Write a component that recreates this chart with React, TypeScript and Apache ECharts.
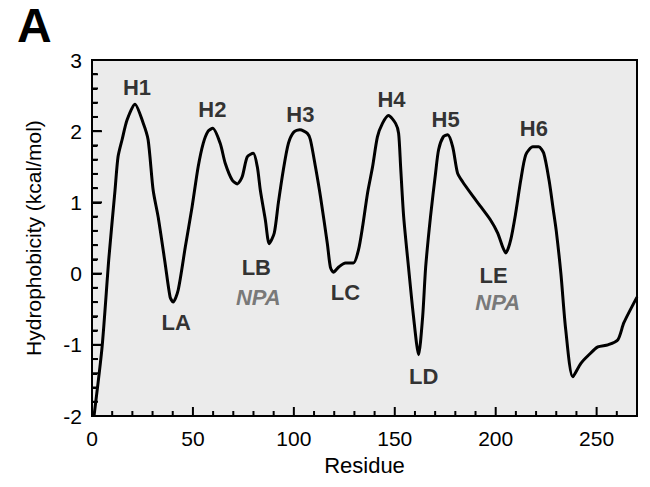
import React, { useEffect, useRef } from "react";
import * as echarts from "echarts";

const residues = [1, 5, 8.4, 11.4, 12.9, 14.9, 17.4, 21.3, 25.3, 27.8, 30.3, 32.8, 36.2, 38.7, 40.2, 42.7, 46.2, 49.6, 52.6, 55.1, 57.5, 59.8, 63.5, 66, 69.5, 72, 74.4, 76.9, 79.9, 81.9, 83.4, 85.9, 87.8, 90.3, 92.3, 94.8, 97.3, 100, 103, 106.7, 108.2, 110.7, 113.2, 116.6, 118.1, 119.6, 122.1, 125.6, 129.5, 132, 134, 136.5, 139, 141.4, 143.9, 146.9, 150.4, 151.9, 152.9, 154.4, 156.8, 159.3, 161.8, 163.8, 165.3, 167.7, 170.2, 171.7, 174, 176.2, 178.7, 181.1, 183.6, 187.6, 192.6, 197.5, 201, 203.5, 205, 207.4, 209.9, 212.4, 214.9, 218.4, 221.3, 223.8, 226.5, 228.5, 230, 232.3, 234.7, 238.2, 242.2, 246.2, 250.6, 255.6, 260.5, 263.5, 270];
const hydrophobicity = [-2.0, -1.03, 0.23, 1.17, 1.64, 1.88, 2.16, 2.38, 2.12, 1.88, 1.17, 0.79, 0.15, -0.33, -0.4, -0.23, 0.37, 0.94, 1.5, 1.83, 2.0, 2.04, 1.83, 1.55, 1.31, 1.26, 1.36, 1.64, 1.69, 1.5, 1.17, 0.75, 0.42, 0.57, 0.99, 1.46, 1.83, 1.99, 2.02, 1.97, 1.88, 1.5, 1.08, 0.42, 0.09, 0.02, 0.09, 0.15, 0.15, 0.33, 0.65, 1.13, 1.5, 1.92, 2.11, 2.22, 2.11, 1.97, 1.5, 0.8, 0.09, -0.61, -1.14, -0.61, 0.09, 0.8, 1.41, 1.74, 1.92, 1.95, 1.78, 1.41, 1.29, 1.13, 0.94, 0.75, 0.57, 0.37, 0.29, 0.47, 0.85, 1.31, 1.67, 1.78, 1.78, 1.69, 1.3, 0.9, 0.6, 0.0, -0.79, -1.45, -1.26, -1.14, -1.03, -1.0, -0.93, -0.69, -0.33];

const segmentNames = ["H1", "H2", "H3", "H4", "H5", "H6", "LA", "LB", "LC", "LD", "LE"];
const segmentX = [22.3, 59.6, 103.2, 148.4, 175.2, 218.9, 41.7, 81.4, 125.6, 164.3, 199];
const segmentY = [2.62, 2.3, 2.23, 2.44, 2.16, 2.04, -0.69, 0.08, -0.27, -1.45, -0.02];

const npaNames = ["NPA", "NPA"];
const npaX = [82.4, 201];
const npaY = [-0.33, -0.4];

const xTickLabels = [0, 50, 100, 150, 200, 250];
const xMinorTicks = [10, 20, 30, 40, 60, 70, 80, 90, 110, 120, 130, 140, 160, 170, 180, 190, 210, 220, 230, 240, 260];
const yTickLabels = [-2, -1, 0, 1, 2, 3];
const yMinorTicks = [-1.8, -1.6, -1.4, -1.2, -0.8, -0.6, -0.4, -0.2, 0.2, 0.4, 0.6, 0.8, 1.2, 1.4, 1.6, 1.8, 2.2, 2.4, 2.6, 2.8];

const FONT = "'Liberation Sans', Arial, Helvetica, sans-serif";
const MAJOR_LEN = 9;
const MINOR_LEN = 5;

export default function App() {
  const ref = useRef<HTMLDivElement>(null);
  useEffect(() => {
    if (!ref.current) return;
    const chart = echarts.init(ref.current, null, { renderer: "svg" });
    const curve = residues.map((r, i) => [r, hydrophobicity[i]]);
    const segs = segmentNames.map((n, i) => [segmentX[i], segmentY[i], n]);
    const npas = npaNames.map((n, i) => [npaX[i], npaY[i], n]);
    chart.setOption({
      animation: false,
      backgroundColor: "#ffffff",
      textStyle: { fontFamily: FONT },
      title: {
        text: "A",
        left: 12,
        top: -4,
        textStyle: { fontFamily: FONT, fontSize: 48, fontWeight: "bold", color: "#000" },
      },
      grid: {
        left: 92,
        right: 13,
        top: 60,
        bottom: 71,
        show: true,
        backgroundColor: "#ebebeb",
        borderColor: "#000",
        borderWidth: 2,
      },
      xAxis: {
        type: "value",
        min: 0,
        max: 270,
        interval: 50,
        name: "Residue",
        nameLocation: "middle",
        nameGap: 38,
        nameTextStyle: { fontFamily: FONT, fontSize: 22, color: "#000" },
        axisLine: { show: true, onZero: false, lineStyle: { color: "#000", width: 2 } },
        axisTick: { show: false },
        axisLabel: { show: true, customValues: xTickLabels, margin: 12, fontFamily: FONT, fontSize: 21, color: "#000" },
        splitLine: { show: false },
      },
      yAxis: {
        type: "value",
        min: -2,
        max: 3,
        interval: 1,
        name: "Hydrophobicity (kcal/mol)",
        nameLocation: "middle",
        nameGap: 48,
        nameTextStyle: { fontFamily: FONT, fontSize: 21, color: "#000" },
        axisLine: { show: true, onZero: false, lineStyle: { color: "#000", width: 2 } },
        axisTick: { show: true, inside: true, length: MAJOR_LEN, lineStyle: { color: "#000", width: 2 } },
        minorTick: { show: true, splitNumber: 5, length: MINOR_LEN, lineStyle: { color: "#000", width: 2 } },
        axisLabel: {
          show: true,
          margin: 10,
          fontFamily: FONT,
          fontSize: 21,
          color: "#000",
          formatter: (v: number) => (yTickLabels.includes(v) ? String(v) : ""),
        },
        splitLine: { show: false },
      },
      series: [
        {
          type: "line",
          data: curve,
          showSymbol: false,
          smooth: 0.25,
          lineStyle: { color: "#000", width: 3 },
          silent: true,
        },
        {
          type: "scatter",
          data: segs,
          symbolSize: 1,
          itemStyle: { color: "rgba(0,0,0,0)" },
          label: {
            show: true,
            position: "inside",
            formatter: (p: any) => p.data[2],
            fontFamily: FONT,
            fontSize: 22,
            fontWeight: "bold",
            color: "#000",
          },
          silent: true,
        },
        {
          type: "scatter",
          data: npas,
          symbolSize: 1,
          itemStyle: { color: "rgba(0,0,0,0)" },
          label: {
            show: true,
            position: "inside",
            formatter: (p: any) => p.data[2],
            fontFamily: FONT,
            fontSize: 22,
            fontStyle: "italic",
            fontWeight: "bold",
            color: "#5a5a5a",
          },
          silent: true,
        },
      ],
    });

    // Inside tick marks, positioned through the axes' own scales (thin rects)
    const tickEls: any[] = [];
    const xTickVals = [...xTickLabels.filter((v) => v > 0).map((v) => [v, MAJOR_LEN]), ...xMinorTicks.map((v) => [v, MINOR_LEN])];
    const yTickVals = [...yTickLabels.filter((v) => v > -2 && v < 3).map((v) => [v, MAJOR_LEN]), ...yMinorTicks.map((v) => [v, MINOR_LEN])];
    const bottomPx = chart.convertToPixel({ yAxisIndex: 0 }, -2) as number;
    const leftPx = chart.convertToPixel({ xAxisIndex: 0 }, 0) as number;
    xTickVals.forEach(([v, len]) => {
      const px = chart.convertToPixel({ xAxisIndex: 0 }, v) as number;
      tickEls.push({
        type: "rect",
        z: 100,
        silent: true,
        shape: { x: px - 1, y: bottomPx - len, width: 2, height: len },
        style: { fill: "#000" },
      });
    });
    yTickVals.forEach(([v, len]) => {
      const py = chart.convertToPixel({ yAxisIndex: 0 }, v) as number;
      tickEls.push({
        type: "rect",
        z: 100,
        silent: true,
        shape: { x: leftPx, y: py - 1, width: len + 1, height: 2 },
        style: { fill: "#000" },
      });
    });
    chart.setOption({ graphic: { elements: tickEls } });

    return () => chart.dispose();
  }, []);
  return <div ref={ref} style={{ width: 650, height: 487, position: "absolute", left: 0, top: 0 }} />;
}
